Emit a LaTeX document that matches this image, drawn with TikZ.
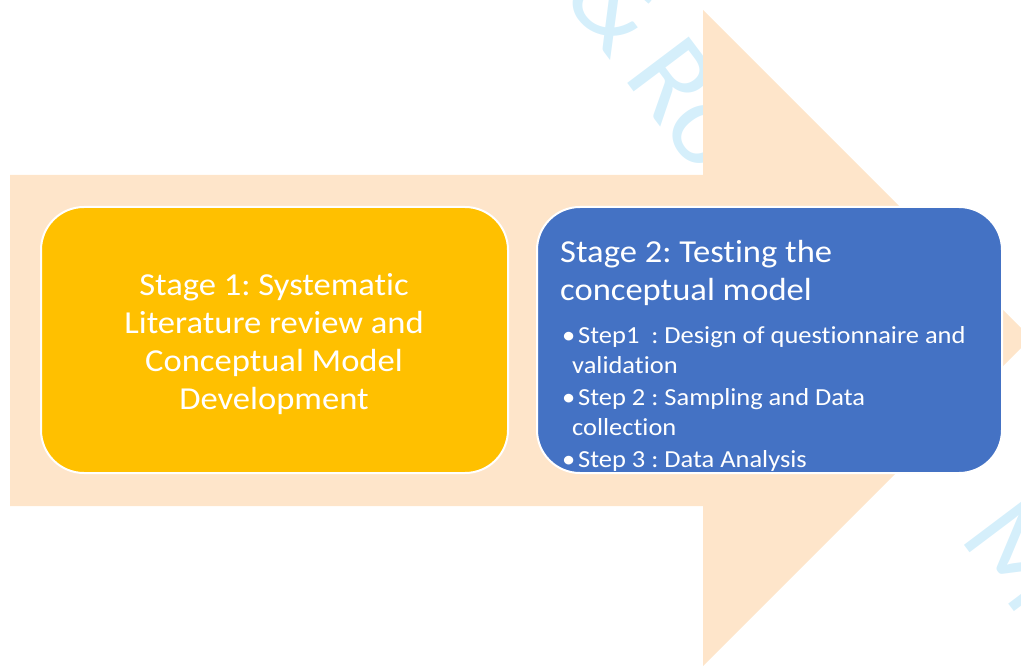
\documentclass[tikz,border=0pt]{standalone}
\usepackage{fontspec}
\setmainfont{Carlito}[Ligatures=NoCommon, FakeStretch=1.08]
\newfontfamily\wmfont{Carlito}[Ligatures=NoCommon]
\frenchspacing
\definecolor{peach}{HTML}{FEE5CA}
\definecolor{stageyellow}{HTML}{FFC000}
\definecolor{stageblue}{HTML}{4472C4}
\definecolor{wmblue}{HTML}{D5EFFB}
\begin{document}
\begin{tikzpicture}[x=1pt,y=-1pt,
  stagebox/.style={draw=white, line width=2pt, rounded corners=43pt, inner sep=0pt},
  bigtext/.style={text=white, font=\fontsize{32}{38}\selectfont, inner sep=0pt, anchor=base},
  steptext/.style={text=white, font=\fontsize{24.5}{30}\selectfont, inner sep=0pt, anchor=base west},
  wmtext/.style={text=wmblue, font=\wmfont\fontsize{120}{120}\selectfont, inner sep=0pt, rotate=-53}]
\useasboundingbox (0,0) rectangle (1021,666);
\begin{scope}
\clip (0,0) rectangle (1021,666);
% watermark
\node[wmtext] (wm1) at (662,62) {\&\,Ro};
\node[wmtext] (wm2) at (1020,555) {M};
% big arrow
\fill[peach] (10,175) -- (703,175) -- (703,10) -- (1031,338) -- (703,666) -- (703,506) -- (10,506) -- cycle;
\end{scope}
% stage boxes
\node[stagebox, fill=stageyellow, minimum width=467pt, minimum height=266pt] (s1) at (274.5,340) {};
\node[stagebox, fill=stageblue, minimum width=465pt, minimum height=266pt] (s2) at (769.5,340) {};
% stage 1 text
\node[bigtext] (s1l1) at (274,295) {Stage 1: Systematic};
\node[bigtext] (s1l2) at (274,333) {Literature review and};
\node[bigtext] (s1l3) at (274,371) {Conceptual Model};
\node[bigtext] (s1l4) at (274,409) {Development};
% stage 2 text
\node[bigtext, anchor=base west] (s2l1) at (560,262) {Stage 2: Testing the};
\node[bigtext, anchor=base west] (s2l2) at (560,300) {conceptual model};
\node[steptext] (b1) at (562,343) {•};
\node[steptext] (t1a) at (578,343) {Step1\ \ : Design of questionnaire and};
\node[steptext] (t1b) at (572,373) {validation};
\node[steptext] (b2) at (562,405) {•};
\node[steptext] (t2a) at (578,405) {Step 2 : Sampling and Data};
\node[steptext] (t2b) at (572,435) {collection};
\node[steptext] (b3) at (562,467) {•};
\node[steptext] (t3a) at (578,467) {Step 3 : Data Analysis};
\end{tikzpicture}
\end{document}
